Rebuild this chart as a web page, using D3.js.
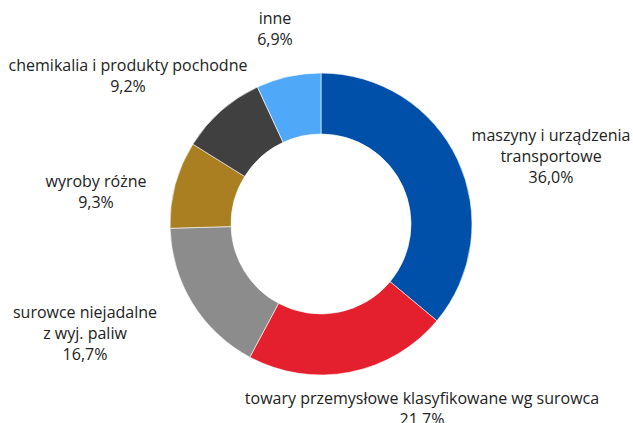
<!DOCTYPE html>
<html><head><meta charset="utf-8">
<script src="https://cdn.jsdelivr.net/npm/d3@7"></script>
<style>body{margin:0;background:#fff}svg{display:block}text{font-family:"Open Sans",Lato,sans-serif;fill:#222}</style>
</head><body>
<script>
const categories = ["maszyny i urządzenia transportowe","towary przemysłowe klasyfikowane wg surowca","surowce niejadalne z wyj. paliw","wyroby różne","chemikalia i produkty pochodne","inne"];
const values = [36.0, 21.7, 16.7, 9.3, 9.2, 6.9];
const valueLabels = ["36,0%","21.7%","16,7%","9,3%","9,2%","6,9%"];
const labelLines = [["maszyny i urządzenia","transportowe"],["towary przemysłowe klasyfikowane wg surowca"],["surowce niejadalne","z wyj. paliw"],["wyroby różne"],["chemikalia i produkty pochodne"],["inne"]];
const colors = ["#0050aa","#e4202e","#8c8c8c","#aa7f22","#404040","#4fa9f8"];
// label anchor (center x, first-line middle y) in pixels
const labelPos = [[551,135],[422,398],[85,312],[96,181],[128,65],[275,18]];

const W=633,H=423, cx=321, cy=224, R=151, r=90, lh=21;
const svg=d3.select("body").append("svg").attr("width",W).attr("height",H);
const pie=d3.pie().sort(null).value(d=>d)(values);
const arc=d3.arc().innerRadius(r).outerRadius(R);
const g=svg.append("g").attr("transform",`translate(${cx},${cy})`);
g.selectAll("path").data(pie).join("path").attr("d",arc)
 .attr("fill",(d,i)=>colors[i]).attr("stroke","#fff").attr("stroke-width",0.6);

labelPos.forEach((p,i)=>{
  const lines=labelLines[i].concat([valueLabels[i]]);
  const t=svg.append("text").attr("text-anchor","middle").attr("font-size",16);
  lines.forEach((l,j)=>t.append("tspan").attr("x",p[0]).attr("y",p[1]+j*lh).attr("dy","0.35em").text(l));
});
</script>
</body></html>
